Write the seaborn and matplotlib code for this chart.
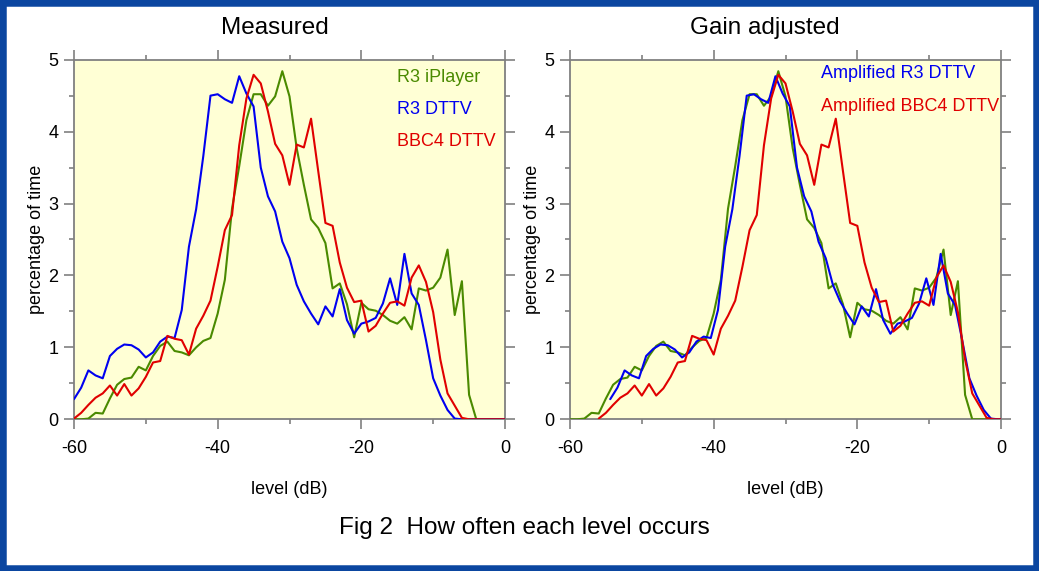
import numpy as np
import pandas as pd
import matplotlib
matplotlib.use("Agg")
import matplotlib.pyplot as plt
import seaborn as sns
from matplotlib.patches import Rectangle
from matplotlib.ticker import MultipleLocator

# ---------------------------------------------------------------
# data (percentage of time per 1 dB bin)
# ---------------------------------------------------------------
levels_db = list(range(-60, 1))

r3_iplayer = [0.00, 0.00, 0.01, 0.09, 0.08, 0.29, 0.48, 0.56, 0.58, 0.73,
              0.68, 0.88, 1.02, 1.08, 0.95, 0.93, 0.89, 1.00, 1.09, 1.13,
              1.47, 1.94, 2.93, 3.52, 4.16, 4.52, 4.52, 4.36, 4.49, 4.84,
              4.49, 3.77, 3.26, 2.78, 2.66, 2.45, 1.82, 1.89, 1.60, 1.14,
              1.62, 1.53, 1.51, 1.45, 1.37, 1.33, 1.42, 1.25, 1.82, 1.79,
              1.83, 1.97, 2.36, 1.45, 1.92, 0.34, 0.00, 0.00, 0.00, 0.00,
              0.00]

r3_dttv = [0.28, 0.44, 0.68, 0.61, 0.57, 0.88, 0.98, 1.04, 1.03, 0.97,
           0.86, 0.93, 1.08, 1.15, 1.13, 1.52, 2.40, 2.92, 3.66, 4.50,
           4.52, 4.45, 4.40, 4.77, 4.53, 4.35, 3.50, 3.10, 2.89, 2.47,
           2.24, 1.87, 1.64, 1.47, 1.32, 1.57, 1.43, 1.81, 1.38, 1.19,
           1.33, 1.36, 1.41, 1.61, 1.96, 1.59, 2.30, 1.75, 1.59, 1.10,
           0.57, 0.33, 0.13, 0.01, 0.00, 0.00, 0.00, 0.00, 0.00, 0.00,
           0.00]

bbc4_dttv = [0.01, 0.09, 0.20, 0.30, 0.36, 0.47, 0.33, 0.49, 0.33, 0.43,
             0.59, 0.79, 0.81, 1.16, 1.12, 1.10, 0.90, 1.26, 1.44, 1.65,
             2.12, 2.63, 2.84, 3.81, 4.46, 4.79, 4.67, 4.28, 3.83, 3.67,
             3.26, 3.82, 3.78, 4.18, 3.45, 2.73, 2.69, 2.18, 1.83, 1.63,
             1.65, 1.22, 1.30, 1.47, 1.62, 1.64, 1.58, 1.97, 2.14, 1.91,
             1.49, 0.83, 0.36, 0.19, 0.02, 0.00, 0.00, 0.00, 0.00, 0.00,
             0.00]

# gain applied to the DTTV recordings in the right panel (dB)
r3_dttv_gain_db = 5.6
bbc4_dttv_gain_db = 4.0

green = "#4a8a00"
blue = "#0000f0"
red = "#e00000"

# ---------------------------------------------------------------
# long-form tables for seaborn
# ---------------------------------------------------------------
n = len(levels_db)
lv = np.array(levels_db, dtype=float)

measured = pd.DataFrame({
    "level": np.concatenate([lv, lv, lv]),
    "pct": r3_iplayer + r3_dttv + bbc4_dttv,
    "source": ["R3 iPlayer"] * n + ["R3 DTTV"] * n + ["BBC4 DTTV"] * n,
})

adjusted = pd.DataFrame({
    "level": np.concatenate([lv, lv + r3_dttv_gain_db, lv + bbc4_dttv_gain_db]),
    "pct": r3_iplayer + r3_dttv + bbc4_dttv,
    "source": ["R3 iPlayer"] * n + ["Amplified R3 DTTV"] * n
              + ["Amplified BBC4 DTTV"] * n,
})

sns.set_theme(style="ticks")
plt.rcParams["font.family"] = ["Liberation Sans", "DejaVu Sans"]
plt.rcParams["text.color"] = "black"
plt.rcParams["axes.labelcolor"] = "black"
plt.rcParams["xtick.labelcolor"] = "black"
plt.rcParams["ytick.labelcolor"] = "black"
plt.rcParams["axes.unicode_minus"] = False

W, H = 1039, 571
fig = plt.figure(figsize=(W / 100, H / 100), dpi=100)
fig.patch.set_facecolor("white")
# blue frame round the whole figure
fig.patches.append(Rectangle((0, 0), 1, 1, transform=fig.transFigure,
                             fill=False, edgecolor="#0b46a0", linewidth=9,
                             zorder=10))

ax_w, ax_h = 431 / W, 359.6 / H
ax_b = 1 - 419.3 / H
ax1 = fig.add_axes([74 / W, ax_b, ax_w, ax_h])
ax2 = fig.add_axes([570 / W, ax_b, ax_w, ax_h])

sns.lineplot(data=measured, x="level", y="pct", hue="source",
             hue_order=["R3 iPlayer", "R3 DTTV", "BBC4 DTTV"],
             palette={"R3 iPlayer": green, "R3 DTTV": blue, "BBC4 DTTV": red},
             estimator=None, sort=False, linewidth=1.5, legend=False,
             zorder=3, ax=ax1)

sns.lineplot(data=adjusted, x="level", y="pct", hue="source",
             hue_order=["R3 iPlayer", "Amplified R3 DTTV", "Amplified BBC4 DTTV"],
             palette={"R3 iPlayer": green, "Amplified R3 DTTV": blue,
                      "Amplified BBC4 DTTV": red},
             estimator=None, sort=False, linewidth=1.5, legend=False,
             zorder=3, ax=ax2)

for ax in (ax1, ax2):
    ax.set_facecolor("#ffffd5")
    ax.set_xlim(-60, 0)
    ax.set_ylim(0, 5)
    ax.xaxis.set_major_locator(MultipleLocator(20))
    ax.xaxis.set_minor_locator(MultipleLocator(10))
    ax.yaxis.set_major_locator(MultipleLocator(1))
    ax.yaxis.set_minor_locator(MultipleLocator(0.5))
    ax.tick_params(which="both", direction="out", color="#808080",
                   top=True, right=True, width=1.2)
    ax.tick_params(which="major", length=7.2, labelsize=13, pad=4)
    ax.tick_params(axis="x", which="major", pad=8)
    ax.tick_params(which="minor", length=3.6)
    for s in ax.spines.values():
        s.set_color("#808080")
        s.set_linewidth(1.3)
    ax.set_xlabel("level (dB)", fontsize=13)
    ax.xaxis.set_label_coords(0.5, (419.3 - 490) / 359.6)
    ax.xaxis.label.set_va("center")
    ax.set_ylabel("percentage of time", fontsize=13)
    ax.yaxis.set_label_coords(-0.088, 0.5)
    ax.yaxis.label.set_va("center")

# in-plot labels
lx = (397 - 74) / 431
for txt, yy, c in [("R3 iPlayer", 78, green), ("R3 DTTV", 109, blue),
                   ("BBC4 DTTV", 141, red)]:
    ax1.text(lx, (419.3 - yy) / 359.6, txt, color=c, fontsize=13,
             ha="left", va="center", transform=ax1.transAxes)

rx = (820.7 - 570) / 431
for txt, yy, c in [("Amplified R3 DTTV", 74, blue),
                   ("Amplified BBC4 DTTV", 106.7, red)]:
    ax2.text(rx, (419.3 - yy) / 359.6, txt, color=c, fontsize=13,
             ha="left", va="center", transform=ax2.transAxes)

fig.text(274.7 / W, 1 - 28 / H, "Measured", fontsize=17.5, ha="center", va="center")
fig.text(764.5 / W, 1 - 28 / H, "Gain adjusted", fontsize=17.5, ha="center", va="center")
fig.text(524.5 / W, 1 - 528 / H, "Fig 2  How often each level occurs",
         fontsize=17.5, ha="center", va="center")

fig.savefig("out.png", dpi=100)
